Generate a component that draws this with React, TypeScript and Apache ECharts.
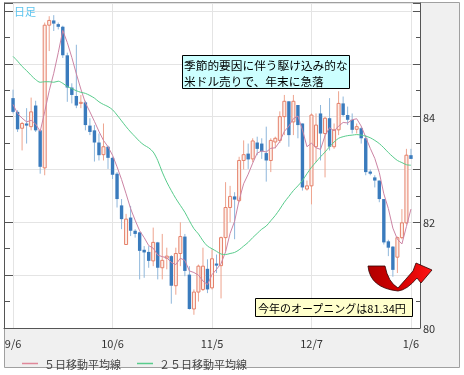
import React, { useEffect, useRef } from 'react';
import * as echarts from 'echarts';

const dates = [
  '9/6','9/7','9/8','9/9','9/10','9/13','9/14','9/15','9/16','9/17','9/20','9/21','9/22','9/23','9/24','9/27','9/28','9/29','9/30',
  '10/1','10/4','10/5','10/6','10/7','10/8','10/11','10/12','10/13','10/14','10/15','10/18','10/19','10/20','10/21','10/22','10/25','10/26','10/27','10/28','10/29',
  '11/1','11/2','11/3','11/4','11/5','11/8','11/9','11/10','11/11','11/12','11/15','11/16','11/17','11/18','11/19','11/22','11/23','11/24','11/25','11/26','11/29','11/30',
  '12/1','12/2','12/3','12/6','12/7','12/8','12/9','12/10','12/13','12/14','12/15','12/16','12/17','12/20','12/21','12/22','12/23','12/24','12/27','12/28','12/29','12/30','12/31',
  '1/3','1/4','1/5','1/6',
];

const opens = [
  84.35,84.09,83.78,83.87,83.81,84.21,83.74,83.03,85.73,85.82,85.75,85.70,85.16,84.55,84.39,84.25,84.27,83.83,83.74,83.51,
  83.28,83.43,83.22,82.92,82.32,81.58,82.09,81.84,81.81,81.48,81.44,81.27,81.62,81.14,81.32,81.36,80.80,81.41,81.73,81.01,
  80.36,80.68,80.73,81.12,80.76,81.22,81.18,81.71,82.28,82.49,82.41,83.17,83.30,83.20,83.51,83.49,83.31,83.17,83.52,83.55,
  84.00,84.29,83.90,84.22,83.87,82.63,82.69,83.43,84.06,83.68,83.97,83.43,83.75,84.25,84.03,83.94,83.76,83.78,83.59,82.96,
  82.85,82.79,82.44,81.64,81.54,81.34,81.71,81.99,83.27,
];
const closes = [
  84.09,83.76,83.87,83.83,84.09,83.74,83.05,85.73,85.82,85.76,85.70,85.16,84.55,84.41,84.21,84.27,83.84,83.71,83.51,83.27,
  83.43,83.22,82.90,82.44,82.06,82.06,81.84,81.78,81.46,81.43,81.27,81.62,81.14,81.28,81.36,80.80,81.41,81.73,81.08,80.36,
  80.68,81.17,81.17,80.73,81.31,81.18,81.71,82.28,82.49,82.43,83.17,83.28,83.19,83.54,83.39,83.34,83.17,83.55,83.59,84.00,
  84.29,83.65,84.29,83.84,82.66,82.69,84.03,83.84,83.68,83.97,83.43,83.75,84.25,84.03,83.94,83.75,83.81,83.59,82.95,82.92,
  82.79,82.44,81.62,81.52,81.10,81.71,81.99,83.27,83.20,
];
const lows = [
  84.06,83.71,83.36,83.49,83.74,83.71,82.92,82.89,85.24,85.62,85.65,85.11,84.28,84.25,84.16,84.16,83.74,83.65,83.15,83.17,
  83.17,83.01,82.82,82.28,81.87,81.58,81.74,81.71,80.92,80.95,81.14,81.17,80.92,80.92,81.11,80.46,80.63,81.17,80.98,80.35,
  80.25,80.50,80.70,80.66,80.73,81.04,80.56,81.45,82.00,81.68,82.38,83.00,83.01,83.14,83.27,83.20,82.77,82.95,83.40,83.50,
  83.65,83.43,83.65,83.59,82.60,82.60,82.34,83.14,83.17,82.85,83.36,83.39,83.65,84.00,83.84,83.68,83.68,83.49,82.89,82.89,
  82.66,82.38,81.58,81.36,80.97,81.04,81.68,81.96,83.20,
];
const highs = [
  84.51,84.12,83.90,84.16,84.36,84.30,83.76,85.78,85.90,85.92,85.78,85.72,85.21,84.63,85.36,84.41,84.30,83.97,83.84,83.68,
  83.87,83.45,83.24,82.95,82.44,82.16,82.31,81.87,81.82,81.55,81.55,81.90,81.63,81.78,81.52,81.38,81.52,82.00,81.78,81.17,
  80.73,81.20,81.52,81.30,81.49,81.39,81.73,82.76,82.69,82.57,83.24,83.55,83.49,83.59,83.62,83.59,83.81,83.59,83.62,84.10,
  84.41,84.29,84.41,84.22,83.87,82.79,84.06,84.06,84.22,84.00,84.35,83.87,84.48,84.38,84.19,84.06,83.87,83.81,83.65,83.00,
  82.89,82.79,82.44,81.67,81.55,81.73,82.25,83.39,83.39,
];

const ma5 = [
  84.23,84.06,83.97,83.90,83.93,83.86,83.72,84.09,84.49,84.82,85.21,85.63,85.40,85.12,84.81,84.52,84.26,84.09,83.91,83.72,
  83.55,83.43,83.27,83.05,82.81,82.54,82.26,82.04,81.84,81.71,81.56,81.51,81.38,81.35,81.33,81.24,81.20,81.32,81.28,81.08,
  81.05,81.00,80.89,80.82,81.01,81.11,81.22,81.44,81.79,82.02,82.42,82.73,82.91,83.12,83.31,83.35,83.33,83.40,83.41,83.53,
  83.72,83.82,83.96,84.01,83.75,83.43,83.50,83.41,83.38,83.64,83.79,83.73,83.82,83.89,83.88,83.94,83.96,83.82,83.61,83.40,
  83.21,82.94,82.54,82.26,81.89,81.68,81.59,81.92,82.25,
];
const ma25 = [
  85.14,85.05,84.95,84.87,84.78,84.70,84.65,84.66,84.66,84.65,84.67,84.63,84.57,84.53,84.49,84.46,84.44,84.40,84.35,84.28,
  84.23,84.19,84.13,84.03,83.92,83.81,83.71,83.62,83.53,83.46,83.41,83.33,83.17,82.95,82.76,82.60,82.45,82.32,82.19,82.03,
  81.88,81.78,81.65,81.55,81.50,81.45,81.40,81.39,81.41,81.43,81.48,81.55,81.62,81.71,81.79,81.87,81.93,82.03,82.13,82.25,
  82.38,82.49,82.60,82.69,82.79,82.92,83.04,83.14,83.24,83.33,83.43,83.52,83.59,83.62,83.64,83.65,83.66,83.65,83.63,83.60,
  83.55,83.49,83.41,83.32,83.24,83.17,83.13,83.09,83.08,
];

const yTickLabels = [80, 82, 84];
const labelDates = ['9/6', '10/6', '11/5', '12/7', '1/6'];
const seriesNames = ['５日移動平均線', '２５日移動平均線'];
const note1 = ['季節的要因に伴う駆け込み的な', '米ドル売りで、年末に急落'];
const note2 = '今年のオープニングは81.34円';
const periodLabel = '日足';

const FONT = '"Noto Sans CJK JP", "Noto Sans", sans-serif';
const PAD = 2;
const MA5_COLOR = '#cc84a4';
const MA25_COLOR = '#58cc8c';

const arrowPath =
  'M368 266 L385 266 Q388 282 398 288 Q406 279 413 271 L416 263 L432 270 L421 283 L417 278 Q407 290 398 291 Q370 288 368 266 Z';
echarts.graphic.registerShape('uarrow', echarts.graphic.extendPath(arrowPath, {}));

export default function App() {
  const ref = useRef<HTMLDivElement>(null);

  useEffect(() => {
    const chart = echarts.init(ref.current!, null, { renderer: 'svg' });
    const cats = ['', ' ', ...dates, '  ', '   '];
    const padArr = (arr: number[]) => [null, null, ...arr, null, null];
    const candleData = dates.map((_, i) => [i + PAD, opens[i], closes[i], lows[i], highs[i]]);
    const isLabel = (_idx: number, value: string) => labelDates.includes(value);

    const axisColor = '#555';
    const gridColor = '#e4e4e4';

    chart.setOption({
      animation: false,
      textStyle: { fontFamily: FONT },
      grid: { left: 4, right: 44, top: 3, bottom: 47, containLabel: false },
      legend: {
        data: [
          { name: seriesNames[0], icon: 'rect', itemStyle: { color: '#e0889a' } },
          { name: seriesNames[1], icon: 'rect', itemStyle: { color: MA25_COLOR } },
        ],
        left: 17,
        top: 353,
        itemWidth: 16,
        itemHeight: 1.5,
        itemGap: 16,
        textStyle: { fontSize: 11, color: '#444', fontFamily: FONT, padding: [0, 0, 0, 1] },
      },
      xAxis: {
        type: 'category',
        data: cats,
        boundaryGap: false,
        axisLine: { show: true, lineStyle: { color: axisColor } },
        axisTick: { show: false },
        axisLabel: { interval: isLabel, margin: 9, fontSize: 11, color: '#333', fontFamily: FONT },
        splitLine: { show: true, interval: isLabel, lineStyle: { color: gridColor } },
      },
      yAxis: [
        {
          type: 'value',
          position: 'left',
          min: 80,
          max: 86.15,
          interval: 1,
          axisLine: { show: true, lineStyle: { color: axisColor } },
          axisTick: { show: true, inside: true, length: 9, lineStyle: { color: axisColor } },
          minorTick: { show: true, splitNumber: 2, length: 6, lineStyle: { color: axisColor } },
          axisLabel: { show: false },
          splitLine: { show: false },
        },
        {
          type: 'value',
          position: 'right',
          min: 80,
          max: 86.15,
          interval: 1,
          axisLine: { show: true, lineStyle: { color: axisColor } },
          axisTick: { show: true, inside: true, length: 7, lineStyle: { color: axisColor } },
          minorTick: { show: true, splitNumber: 2, length: 4, lineStyle: { color: axisColor } },
          axisLabel: {
            margin: 3,
            fontSize: 11,
            color: '#333',
            fontFamily: FONT,
            formatter: (v: number) => (yTickLabels.includes(v) ? String(v) : ''),
          },
          splitLine: { show: true, lineStyle: { color: gridColor } },
        },
      ],
      series: [
        {
          type: 'custom',
          name: 'candles',
          yAxisIndex: 1,
          z: 2,
          encode: { x: 0, y: [1, 2, 3, 4] },
          data: candleData,
          renderItem: (_params: any, api: any) => {
            const xi = api.value(0);
            const o = api.value(1);
            const c = api.value(2);
            const l = api.value(3);
            const h = api.value(4);
            const pO = api.coord([xi, o]);
            const pC = api.coord([xi, c]);
            const pL = api.coord([xi, l]);
            const pH = api.coord([xi, h]);
            const x = pO[0];
            const up = c >= o;
            const top = Math.min(pO[1], pC[1]);
            const hgt = Math.max(Math.abs(pO[1] - pC[1]), 1);
            const w = up ? 3 : 3.4;
            return {
              type: 'group',
              children: [
                {
                  type: 'line',
                  shape: { x1: x, y1: pH[1], x2: x, y2: pL[1] },
                  style: { stroke: up ? '#eea48e' : '#8fb7db', lineWidth: 1 },
                },
                {
                  type: 'rect',
                  shape: { x: x - w / 2, y: top, width: w, height: hgt },
                  style: up
                    ? { fill: '#fdf0ea', stroke: '#e5806a', lineWidth: 1 }
                    : { fill: '#3a7bbd' },
                },
              ],
            };
          },
        },
        {
          type: 'line',
          name: seriesNames[0],
          yAxisIndex: 1,
          z: 3,
          data: padArr(ma5),
          symbol: 'none',
          showSymbol: false,
          itemStyle: { color: MA5_COLOR },
          lineStyle: { color: MA5_COLOR, width: 1 },
        },
        {
          type: 'line',
          name: seriesNames[1],
          yAxisIndex: 1,
          z: 3,
          data: padArr(ma25),
          symbol: 'none',
          showSymbol: false,
          smooth: 0.3,
          itemStyle: { color: MA25_COLOR },
          lineStyle: { color: MA25_COLOR, width: 1 },
        },
      ],
      graphic: [
        {
          type: 'rect',
          z: -10,
          silent: true,
          shape: { x: 4.5, y: 2.5, width: 455, height: 365 },
          style: { fill: '#f0f0f0', stroke: '#a0a0a0', lineWidth: 1 },
        },
        {
          type: 'rect',
          z: -9,
          silent: true,
          shape: { x: 5, y: 3, width: 415, height: 325 },
          style: { fill: '#ffffff' },
        },
        {
          type: 'text',
          z: 50,
          x: 14,
          y: 11,
          style: { text: periodLabel, fontSize: 11, fontFamily: FONT, fill: '#5cc4ee', align: 'left', verticalAlign: 'middle' },
        },
        {
          type: 'rect',
          z: 50,
          shape: { x: 182.5, y: 55.5, width: 167, height: 33 },
          style: { fill: '#ccffff', stroke: '#000', lineWidth: 1 },
        },
        {
          type: 'text',
          z: 51,
          x: 184,
          y: 64,
          style: { text: note1[0], fontSize: 11.7, fontFamily: FONT, fill: '#000', align: 'left', verticalAlign: 'middle' },
        },
        {
          type: 'text',
          z: 51,
          x: 184,
          y: 80,
          style: { text: note1[1], fontSize: 11.7, fontFamily: FONT, fill: '#000', align: 'left', verticalAlign: 'middle' },
        },
        {
          type: 'rect',
          z: 50,
          shape: { x: 255.5, y: 298.5, width: 157, height: 18 },
          style: { fill: '#ffffcc', stroke: '#000', lineWidth: 1 },
        },
        {
          type: 'text',
          z: 51,
          x: 258,
          y: 308,
          style: { text: note2, fontSize: 11, fontFamily: FONT, fill: '#000', align: 'left', verticalAlign: 'middle' },
        },
        {
          type: 'uarrow',
          z: 52,
          x: 0,
          y: 0,
          style: {
            fill: new echarts.graphic.LinearGradient(0, 0, 1, 0, [
              { offset: 0, color: '#b00000' },
              { offset: 0.45, color: '#d00000' },
              { offset: 1, color: '#ff1414' },
            ]),
            stroke: '#300000',
            lineWidth: 0.8,
          },
        },
      ],
    });

    return () => {
      chart.dispose();
    };
  }, []);

  return <div ref={ref} style={{ position: 'fixed', left: 0, top: 0, width: 464, height: 375 }} />;
}
